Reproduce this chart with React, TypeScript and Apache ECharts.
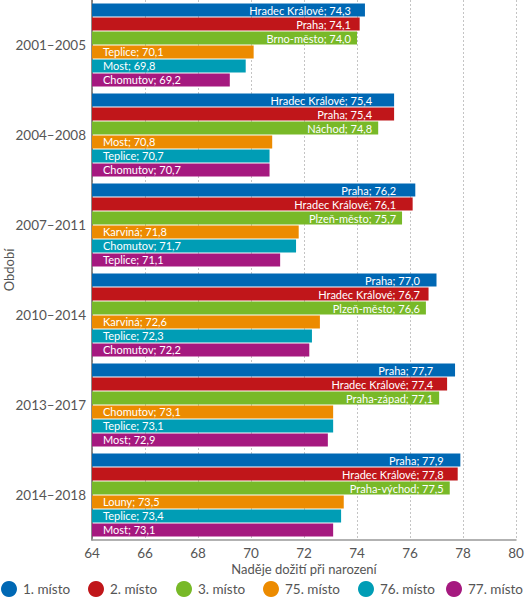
import React, { useEffect, useRef } from "react";
import * as echarts from "echarts";

const periods = ["2001–2005", "2004–2008", "2007–2011", "2010–2014", "2013–2017", "2014–2018"];
const seriesNames = ["1. místo", "2. místo", "3. místo", "75. místo", "76. místo", "77. místo"];
const colors = ["#0068b4", "#c0161a", "#78b928", "#ec8b00", "#009db5", "#a5197f"];

const districts1 = ["Hradec Králové", "Hradec Králové", "Praha", "Praha", "Praha", "Praha"];
const values1 = [74.3, 75.4, 76.2, 77.0, 77.7, 77.9];
const districts2 = ["Praha", "Praha", "Hradec Králové", "Hradec Králové", "Hradec Králové", "Hradec Králové"];
const values2 = [74.1, 75.4, 76.1, 76.7, 77.4, 77.8];
const districts3 = ["Brno-město", "Náchod", "Plzeň-město", "Plzeň-město", "Praha-západ", "Praha-východ"];
const values3 = [74.0, 74.8, 75.7, 76.6, 77.1, 77.5];
const districts75 = ["Teplice", "Most", "Karviná", "Karviná", "Chomutov", "Louny"];
const values75 = [70.1, 70.8, 71.8, 72.6, 73.1, 73.5];
const districts76 = ["Most", "Teplice", "Chomutov", "Teplice", "Teplice", "Teplice"];
const values76 = [69.8, 70.7, 71.7, 72.3, 73.1, 73.4];
const districts77 = ["Chomutov", "Chomutov", "Teplice", "Chomutov", "Most", "Most"];
const values77 = [69.2, 70.7, 71.1, 72.2, 72.9, 73.1];

const xTicksMin = 64;
const xTicksMax = 80;
const xInterval = 2;

const allDistricts = [districts1, districts2, districts3, districts75, districts76, districts77];
const allValues = [values1, values2, values3, values75, values76, values77];

const FONT = "Lato";
const legendLefts = [1, 88, 176, 263, 358, 446];

const fmt = (v: number) => v.toFixed(1).replace(".", ",");

export default function App() {
  const ref = useRef<HTMLDivElement>(null);
  useEffect(() => {
    document.body.style.margin = "0";
    if (!ref.current) return;
    const chart = echarts.init(ref.current, null, { renderer: "svg" });

    const buildSeries = (labelLens: number[] | null) =>
      allValues.map((vals, si) => {
        const top3 = si < 3;
        return {
          type: "bar",
          name: seriesNames[si],
          barGap: "7.5%",
          barCategoryGap: "7.8%",
          itemStyle: { color: colors[si] },
          label: {
            show: true,
            color: "#fff",
            fontSize: 11,
            fontFamily: FONT,
            position: top3 ? "insideRight" : "insideLeft",
            distance: top3 ? 6 : 11,
            formatter: (p: any) => `${allDistricts[si][p.dataIndex]}; ${fmt(p.value)}`,
          },
          data: vals.map((v, i) =>
            top3 && labelLens
              ? {
                  value: v,
                  label: { position: [labelLens[i] - 6, "50%"], align: "right", verticalAlign: "middle" },
                }
              : { value: v }
          ),
        };
      });

    const option: any = {
      animation: false,
      textStyle: { fontFamily: FONT },
      grid: { left: 92, right: 10, top: 0, bottom: 59, containLabel: false, outerBoundsMode: "none" },
      legend: seriesNames.map((n, i) => ({
        data: [n],
        left: legendLefts[i],
        bottom: 2,
        padding: 0,
        icon: "circle",
        itemWidth: 16,
        itemHeight: 16,
        textStyle: { fontSize: 13.5, color: "#555", fontFamily: FONT, padding: [0, 0, 0, 1] },
      })),
      xAxis: {
        type: "value",
        min: xTicksMin,
        max: xTicksMax,
        interval: xInterval,
        name: "Naděje dožití při narození",
        nameLocation: "middle",
        nameGap: 22,
        nameMoveOverlap: false,
        nameTextStyle: { fontSize: 13, color: "#555", fontFamily: FONT },
        axisLine: { show: true, lineStyle: { color: "#999", width: 1.5 } },
        axisTick: { show: false },
        axisLabel: { fontSize: 13.5, color: "#555", margin: 6, fontFamily: FONT },
        splitLine: { show: true, lineStyle: { color: "#c4c4c4", type: [2, 2], width: 1 } },
      },
      yAxis: {
        type: "category",
        inverse: true,
        data: periods,
        name: "Období",
        nameLocation: "middle",
        nameGap: 77,
        nameMoveOverlap: false,
        nameTextStyle: { fontSize: 13, color: "#555", fontFamily: FONT },
        axisLine: { show: true, lineStyle: { color: "#666", width: 1.5 } },
        axisTick: { show: false },
        axisLabel: { fontSize: 13.5, color: "#555", margin: 6, fontFamily: FONT },
        splitLine: { show: false },
      },
      series: buildSeries(null),
    };
    chart.setOption(option);

    const base = chart.convertToPixel({ xAxisIndex: 0 } as any, xTicksMin) as number;
    const lens = periods.map((_, i) => {
      const m = Math.min(values1[i], values2[i], values3[i]);
      return (chart.convertToPixel({ xAxisIndex: 0 } as any, m) as number) - base;
    });
    chart.setOption({ series: buildSeries(lens) });

    return () => chart.dispose();
  }, []);
  return <div ref={ref} style={{ width: 526, height: 599 }} />;
}
